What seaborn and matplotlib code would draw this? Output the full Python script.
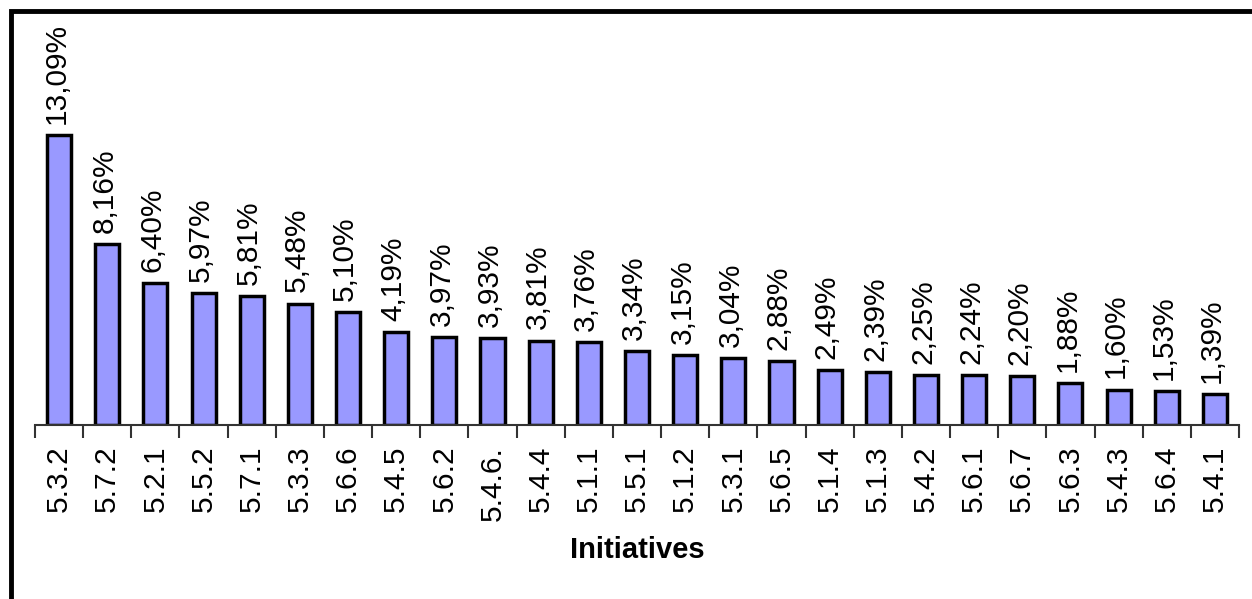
import matplotlib
matplotlib.use("Agg")
import matplotlib.pyplot as plt
import seaborn as sns
import pandas as pd
from matplotlib.patches import Rectangle
from matplotlib.ticker import FixedLocator

initiatives = ["5.3.2", "5.7.2", "5.2.1", "5.5.2", "5.7.1", "5.3.3", "5.6.6", "5.4.5",
               "5.6.2", "5.4.6.", "5.4.4", "5.1.1", "5.5.1", "5.1.2", "5.3.1", "5.6.5",
               "5.1.4", "5.1.3", "5.4.2", "5.6.1", "5.6.7", "5.6.3", "5.4.3", "5.6.4", "5.4.1"]
shares = [13.09, 8.16, 6.40, 5.97, 5.81, 5.48, 5.10, 4.19, 3.97, 3.93, 3.81, 3.76, 3.34,
          3.15, 3.04, 2.88, 2.49, 2.39, 2.25, 2.24, 2.20, 1.88, 1.60, 1.53, 1.39]

df = pd.DataFrame({"Initiatives": initiatives, "share": shares})

sns.set_style("white")
plt.rcParams["font.family"] = ["Liberation Sans", "DejaVu Sans"]
plt.rcParams["text.color"] = "black"
plt.rcParams["xtick.color"] = "black"
plt.rcParams["axes.labelcolor"] = "black"

fig = plt.figure(figsize=(12.52, 5.99), dpi=100)
ax = fig.add_axes([35 / 1252, 174 / 599, (1239 - 35) / 1252, (425 - 15) / 599])

sns.barplot(data=df, x="Initiatives", y="share", color="#9999FF", saturation=1,
            width=0.5, edgecolor="black", linewidth=2.5, ax=ax)

for i, v in enumerate(shares):
    ax.annotate(f"{v:.2f}%".replace(".", ","), (i, v), xytext=(-2, 8),
                textcoords="offset points", rotation=90, ha="center", va="bottom",
                fontsize=21.5)

ax.set_xlim(-0.5, len(initiatives) - 0.5)
ax.set_ylim(0, 18.5)
ax.set_yticks([])
ax.set_ylabel("")
ax.set_xlabel("Initiatives", fontsize=21, fontweight="bold", labelpad=11)
ax.tick_params(axis="x", which="major", length=0, pad=15, labelsize=21.5, labelrotation=90)
ax.xaxis.set_minor_locator(FixedLocator([i - 0.5 for i in range(len(initiatives) + 1)]))
ax.tick_params(axis="x", which="minor", length=9, width=1.5, color="#333333", bottom=True)

for s in ["top", "right", "left"]:
    ax.spines[s].set_visible(False)
ax.spines["bottom"].set_color("#333333")
ax.spines["bottom"].set_linewidth(1.5)

fig.patches.append(Rectangle((11 / 1252, -0.2), 1.5, 1 - 11 / 599 + 0.2,
                             transform=fig.transFigure, fill=False,
                             edgecolor="black", linewidth=3.5))

fig.savefig("out.png", dpi=100)
